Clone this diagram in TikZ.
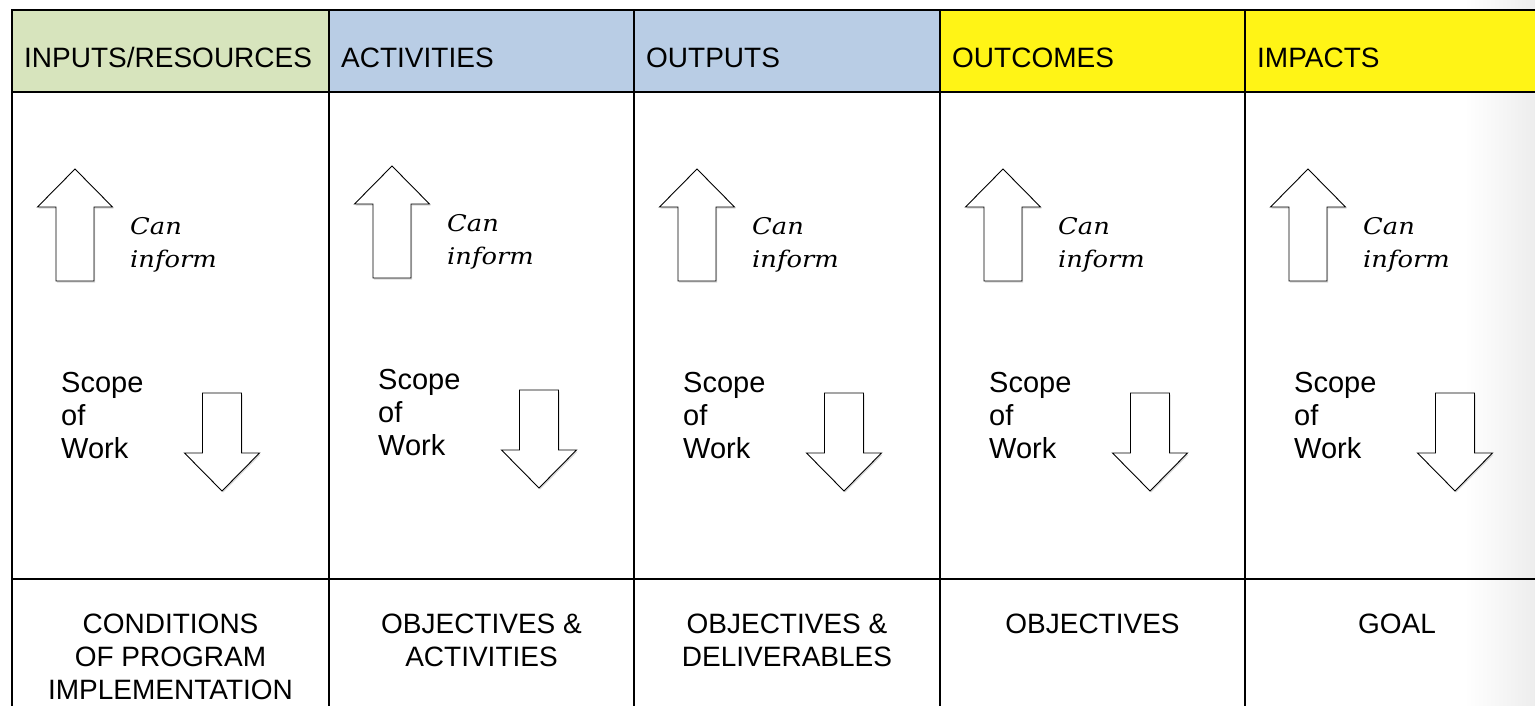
\documentclass[tikz,border=0pt]{standalone}
\usepackage{fontspec}
\setmainfont{Liberation Sans}
\newfontfamily\canfont[FakeStretch=1.12]{DejaVu Serif}
\usetikzlibrary{shadows}
\definecolor{hgreen}{HTML}{D7E4BD}
\definecolor{hblue}{HTML}{B9CDE5}
\definecolor{hyellow}{HTML}{FFF416}
\begin{document}
\begin{tikzpicture}[x=1pt,y=-1pt,
  grid/.style={line width=2pt, line cap=rect},
  headtext/.style={anchor=base west, inner sep=0pt, font=\fontsize{28}{33}\selectfont},
  goaltext/.style={anchor=north, inner sep=0pt, align=center, font=\fontsize{28}{33}\selectfont},
  scopetext/.style={anchor=north west, inner sep=0pt, align=left, font=\fontsize{29}{33}\selectfont},
  cantext/.style={anchor=north west, inner sep=0pt, align=left, font=\canfont\itshape\fontsize{23}{33}\selectfont},
  blockarrow/.style={draw=black, line width=0.9pt, fill=white, line join=miter,
    drop shadow={shadow xshift=1.2pt, shadow yshift=-1.5pt, opacity=0.3}},
  uparr/.pic={\path[blockarrow] (0,0) -- (37.5,38) -- (19,38) -- (19,112) -- (-19,112) -- (-19,38) -- (-37.5,38) -- cycle;},
  downarr/.pic={\path[blockarrow] (0,0) -- (37.5,-38) -- (19.5,-38) -- (19.5,-98) -- (-19.5,-98) -- (-19.5,-38) -- (-37.5,-38) -- cycle;}
]
\useasboundingbox (0,0) rectangle (1535,706);
\clip (0,0) rectangle (1535,706);
% page shadow at the right edge
\shade[left color=white, right color=black!7] (1465,0) rectangle (1535,706);
% header fills
\fill[hgreen] (12,10) rectangle (329,92);
\fill[hblue] (329,10) rectangle (940,92);
\fill[hyellow] (940,10) rectangle (1560,92);
% grid
\draw[grid] (12,10) -- (1560,10);
\draw[grid] (12,92) -- (1560,92);
\draw[grid] (12,579) -- (1560,579);
\foreach \x in {12,329,634,940,1245}{
  \draw[grid] (\x,10) -- (\x,720);
}
% headers
\node[headtext] (h1) at (12+12,68) {INPUTS/RESOURCES};
\node[headtext] (h2) at (329+12,68) {ACTIVITIES};
\node[headtext] (h3) at (634+12,68) {OUTPUTS};
\node[headtext] (h4) at (940+12,68) {OUTCOMES};
\node[headtext] (h5) at (1245+12,68) {IMPACTS};
% middle row
\foreach \L/\dy/\i in {12/0/1, 329/-3/2, 634/0/3, 940/0/4, 1245/0/5}{
  \pic at (\L+63,169+\dy) {uparr};
  \pic at (\L+210,491+\dy) {downarr};
  \node[cantext] (can\i) at (\L+118,217+\dy) {Can\\inform};
  \node[scopetext] (scope\i) at (\L+49,372+\dy) {Scope\\of\\Work};
}
% bottom row
\node[goaltext] (b1) at (170.5,614) {CONDITIONS\\OF PROGRAM\\IMPLEMENTATION};
\node[goaltext] (b2) at (481.5,614) {OBJECTIVES \&\\ACTIVITIES};
\node[goaltext] (b3) at (787,614) {OBJECTIVES \&\\DELIVERABLES};
\node[goaltext] (b4) at (1092.5,614) {OBJECTIVES};
\node[goaltext] (b5) at (1397,614) {GOAL};
\end{tikzpicture}
\end{document}
